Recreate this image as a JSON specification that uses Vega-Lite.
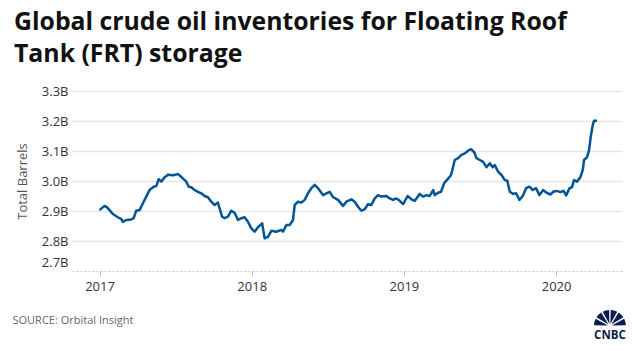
{
  "$schema": "https://vega.github.io/schema/vega-lite/v6.json",
  "autosize": {"type": "none"},
  "width": 550,
  "height": 180,
  "padding": {"left": 72, "top": 91, "right": 18, "bottom": 80},
  "background": "white",
  "config": {"view": {"stroke": null}, "font": "Open Sans"},
  "title": {
    "text": ["Global crude oil inventories for Floating Roof", "Tank (FRT) storage"],
    "anchor": "start",
    "frame": "group",
    "dx": -58,
    "offset": 18,
    "font": "Open Sans",
    "fontSize": 24.8,
    "fontWeight": "bold",
    "lineHeight": 32,
    "color": "#111111"
  },
  "layer": [
    {
      "data": {"values": [
        {"date": "2017-01-01", "value": 2.903},
        {"date": "2017-01-13", "value": 2.917},
        {"date": "2017-01-18", "value": 2.914},
        {"date": "2017-01-25", "value": 2.903},
        {"date": "2017-02-02", "value": 2.890},
        {"date": "2017-02-14", "value": 2.879},
        {"date": "2017-02-22", "value": 2.874},
        {"date": "2017-02-26", "value": 2.864},
        {"date": "2017-03-06", "value": 2.870},
        {"date": "2017-03-18", "value": 2.872},
        {"date": "2017-03-24", "value": 2.876},
        {"date": "2017-03-30", "value": 2.901},
        {"date": "2017-04-07", "value": 2.903},
        {"date": "2017-04-15", "value": 2.926},
        {"date": "2017-04-25", "value": 2.953},
        {"date": "2017-05-01", "value": 2.970},
        {"date": "2017-05-11", "value": 2.981},
        {"date": "2017-05-17", "value": 2.983},
        {"date": "2017-05-23", "value": 3.006},
        {"date": "2017-05-29", "value": 2.998},
        {"date": "2017-06-06", "value": 3.012},
        {"date": "2017-06-14", "value": 3.021},
        {"date": "2017-06-26", "value": 3.019},
        {"date": "2017-07-08", "value": 3.023},
        {"date": "2017-07-16", "value": 3.014},
        {"date": "2017-07-28", "value": 2.998},
        {"date": "2017-08-03", "value": 2.981},
        {"date": "2017-08-09", "value": 2.979},
        {"date": "2017-08-17", "value": 2.970},
        {"date": "2017-08-25", "value": 2.964},
        {"date": "2017-09-02", "value": 2.959},
        {"date": "2017-09-10", "value": 2.950},
        {"date": "2017-09-18", "value": 2.946},
        {"date": "2017-09-26", "value": 2.931},
        {"date": "2017-10-04", "value": 2.920},
        {"date": "2017-10-12", "value": 2.928},
        {"date": "2017-10-16", "value": 2.909},
        {"date": "2017-10-22", "value": 2.881},
        {"date": "2017-10-28", "value": 2.876},
        {"date": "2017-11-05", "value": 2.881},
        {"date": "2017-11-13", "value": 2.901},
        {"date": "2017-11-21", "value": 2.894},
        {"date": "2017-11-29", "value": 2.870},
        {"date": "2017-12-07", "value": 2.876},
        {"date": "2017-12-15", "value": 2.879},
        {"date": "2017-12-23", "value": 2.864},
        {"date": "2017-12-31", "value": 2.842},
        {"date": "2018-01-08", "value": 2.831},
        {"date": "2018-01-16", "value": 2.846},
        {"date": "2018-01-26", "value": 2.859},
        {"date": "2018-02-01", "value": 2.809},
        {"date": "2018-02-09", "value": 2.814},
        {"date": "2018-02-17", "value": 2.834},
        {"date": "2018-03-01", "value": 2.831},
        {"date": "2018-03-13", "value": 2.837},
        {"date": "2018-03-17", "value": 2.831},
        {"date": "2018-03-25", "value": 2.853},
        {"date": "2018-04-02", "value": 2.853},
        {"date": "2018-04-10", "value": 2.870},
        {"date": "2018-04-14", "value": 2.920},
        {"date": "2018-04-22", "value": 2.931},
        {"date": "2018-04-30", "value": 2.928},
        {"date": "2018-05-08", "value": 2.937},
        {"date": "2018-05-16", "value": 2.959},
        {"date": "2018-05-24", "value": 2.976},
        {"date": "2018-06-01", "value": 2.987},
        {"date": "2018-06-09", "value": 2.976},
        {"date": "2018-06-21", "value": 2.953},
        {"date": "2018-06-29", "value": 2.959},
        {"date": "2018-07-07", "value": 2.964},
        {"date": "2018-07-15", "value": 2.946},
        {"date": "2018-07-27", "value": 2.937},
        {"date": "2018-08-08", "value": 2.917},
        {"date": "2018-08-16", "value": 2.931},
        {"date": "2018-08-28", "value": 2.939},
        {"date": "2018-09-05", "value": 2.931},
        {"date": "2018-09-13", "value": 2.914},
        {"date": "2018-09-21", "value": 2.901},
        {"date": "2018-09-29", "value": 2.906},
        {"date": "2018-10-07", "value": 2.923},
        {"date": "2018-10-15", "value": 2.920},
        {"date": "2018-10-23", "value": 2.942},
        {"date": "2018-10-31", "value": 2.953},
        {"date": "2018-11-08", "value": 2.948},
        {"date": "2018-11-20", "value": 2.950},
        {"date": "2018-11-28", "value": 2.942},
        {"date": "2018-12-06", "value": 2.937},
        {"date": "2018-12-14", "value": 2.942},
        {"date": "2018-12-22", "value": 2.934},
        {"date": "2018-12-30", "value": 2.923},
        {"date": "2019-01-10", "value": 2.950},
        {"date": "2019-01-19", "value": 2.939},
        {"date": "2019-01-27", "value": 2.934},
        {"date": "2019-02-08", "value": 2.957},
        {"date": "2019-02-16", "value": 2.948},
        {"date": "2019-02-24", "value": 2.953},
        {"date": "2019-03-04", "value": 2.950},
        {"date": "2019-03-12", "value": 2.970},
        {"date": "2019-03-16", "value": 2.953},
        {"date": "2019-03-24", "value": 2.961},
        {"date": "2019-03-31", "value": 2.964},
        {"date": "2019-04-08", "value": 2.994},
        {"date": "2019-04-16", "value": 3.006},
        {"date": "2019-04-24", "value": 3.020},
        {"date": "2019-05-03", "value": 3.070},
        {"date": "2019-05-11", "value": 3.076},
        {"date": "2019-05-19", "value": 3.087},
        {"date": "2019-05-27", "value": 3.092},
        {"date": "2019-06-04", "value": 3.101},
        {"date": "2019-06-11", "value": 3.106},
        {"date": "2019-06-19", "value": 3.095},
        {"date": "2019-06-24", "value": 3.076},
        {"date": "2019-07-02", "value": 3.070},
        {"date": "2019-07-10", "value": 3.064},
        {"date": "2019-07-18", "value": 3.046},
        {"date": "2019-07-26", "value": 3.059},
        {"date": "2019-08-02", "value": 3.046},
        {"date": "2019-08-07", "value": 3.053},
        {"date": "2019-08-15", "value": 3.031},
        {"date": "2019-08-23", "value": 3.020},
        {"date": "2019-08-31", "value": 3.003},
        {"date": "2019-09-06", "value": 3.001},
        {"date": "2019-09-12", "value": 2.964},
        {"date": "2019-09-20", "value": 2.957},
        {"date": "2019-09-27", "value": 2.959},
        {"date": "2019-10-05", "value": 2.937},
        {"date": "2019-10-13", "value": 2.950},
        {"date": "2019-10-21", "value": 2.976},
        {"date": "2019-10-29", "value": 2.981},
        {"date": "2019-11-06", "value": 2.970},
        {"date": "2019-11-14", "value": 2.976},
        {"date": "2019-11-22", "value": 2.953},
        {"date": "2019-12-01", "value": 2.970},
        {"date": "2019-12-09", "value": 2.961},
        {"date": "2019-12-18", "value": 2.955},
        {"date": "2019-12-26", "value": 2.965},
        {"date": "2020-01-03", "value": 2.967},
        {"date": "2020-01-11", "value": 2.963},
        {"date": "2020-01-19", "value": 2.967},
        {"date": "2020-01-25", "value": 2.952},
        {"date": "2020-02-02", "value": 2.976},
        {"date": "2020-02-08", "value": 2.979},
        {"date": "2020-02-13", "value": 3.003},
        {"date": "2020-02-20", "value": 2.998},
        {"date": "2020-02-28", "value": 3.012},
        {"date": "2020-03-05", "value": 3.037},
        {"date": "2020-03-08", "value": 3.070},
        {"date": "2020-03-15", "value": 3.079},
        {"date": "2020-03-20", "value": 3.103},
        {"date": "2020-03-24", "value": 3.148},
        {"date": "2020-03-29", "value": 3.187},
        {"date": "2020-04-01", "value": 3.201},
        {"date": "2020-04-08", "value": 3.201}
      ]},
      "mark": {"type": "line", "color": "#005596", "strokeWidth": 2.5, "strokeJoin": "round"},
      "encoding": {
        "x": {
          "field": "date", "type": "temporal",
          "scale": {"domain": ["2016-10-27", "2020-06-07"]},
          "axis": {
            "title": "SOURCE: Orbital Insight",
            "titleAnchor": "start",
            "titleX": -60,
            "titleY": 52,
            "titleBaseline": "alphabetic",
            "titleFont": "Open Sans",
            "titleFontSize": 11,
            "titleFontWeight": "normal",
            "titleColor": "#666666",
            "values": [{"year": 2017, "month": 1, "date": 1}, {"year": 2018, "month": 1, "date": 1}, {"year": 2019, "month": 1, "date": 1}, {"year": 2020, "month": 1, "date": 1}],
            "tickCount": 10,
            "format": "%Y",
            "grid": false,
            "domainColor": "#c8c8c8",
            "domainDash": [2, 2],
            "domainWidth": 1,
            "tickColor": "#bbbbbb",
            "tickSize": 4,
            "labelFont": "Open Sans",
            "labelFontSize": 13,
            "labelColor": "#333333",
            "labelPadding": 5
          }
        },
        "y": {
          "field": "value", "type": "quantitative",
          "scale": {"domain": [2.7, 3.3], "nice": false, "zero": false},
          "axis": {
            "title": "Total Barrels",
            "titleFont": "Open Sans",
            "titleFontSize": 13,
            "titleFontWeight": "normal",
            "titleColor": "#555555",
            "titlePadding": 12,
            "values": [2.7, 2.8, 2.9, 3.0, 3.1, 3.2, 3.3],
            "tickCount": 10,
            "labelExpr": "format(datum.value, '.1f') + 'B'",
            "labelOverlap": false,
            "labelFont": "Open Sans",
            "labelFontSize": 13,
            "labelColor": "#333333",
            "labelPadding": 4,
            "labelOffset": {"condition": {"test": "datum.value < 2.75", "value": -9}, "value": 0},
            "ticks": false,
            "domain": false,
            "grid": true,
            "gridColor": {"condition": {"test": "datum.value < 2.75", "value": "transparent"}, "value": "#e6e6e6"},
            "gridWidth": 1.5
          }
        }
      }
    },
    {
      "data": {"values": [
        {"feather": "a", "share": 1},
        {"feather": "b", "share": 1},
        {"feather": "c", "share": 1},
        {"feather": "d", "share": 1},
        {"feather": "e", "share": 1},
        {"feather": "f", "share": 1}
      ]},
      "mark": {"type": "arc", "color": "#0b1f4d", "radius": 16, "radius2": 2, "padAngle": 0.1},
      "encoding": {
        "x": {"datum": {"year": 2020, "month": 5, "date": 9}, "type": "temporal"},
        "y": {"datum": 2.5167, "type": "quantitative"},
        "theta": {"field": "share", "type": "quantitative", "stack": true, "scale": {"range": [-1.5708, 1.5708]}},
        "detail": {"field": "feather", "type": "nominal"}
      }
    },
    {
      "data": {"values": [{"brand": "CNBC"}]},
      "mark": {"type": "text", "font": "Open Sans", "fontSize": 11.5, "fontWeight": "bold", "color": "#0b1f4d", "align": "center", "baseline": "alphabetic"},
      "encoding": {
        "text": {"field": "brand"},
        "x": {"datum": {"year": 2020, "month": 5, "date": 9}, "type": "temporal"},
        "y": {"datum": 2.473, "type": "quantitative"}
      }
    }
  ]
}
